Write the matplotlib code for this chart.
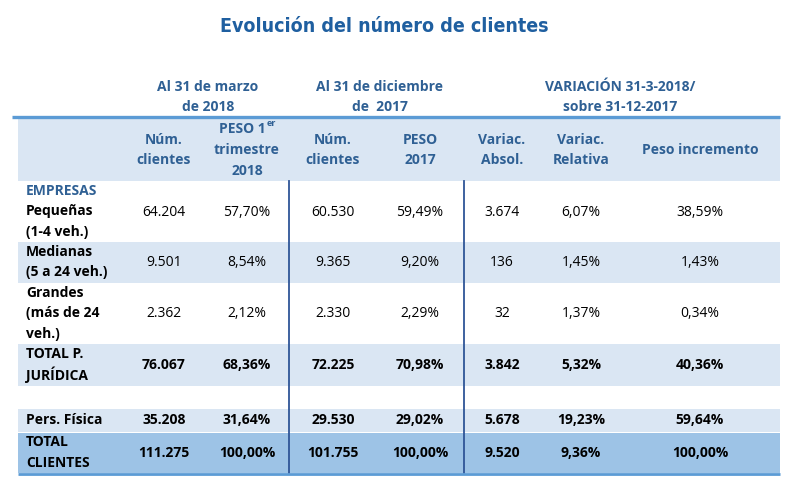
import matplotlib
matplotlib.use("Agg")
import matplotlib.pyplot as plt
from matplotlib import font_manager

# data
row_labels = [["Pequeñas", "(1-4 veh.)"],
              ["Medianas", "(5 a 24 veh.)"],
              ["Grandes", "(más de 24", "veh.)"],
              ["TOTAL P.", "JURÍDICA"],
              [],
              ["Pers. Física"],
              ["TOTAL", "CLIENTES"]]
clientes_2018 = ["64.204", "9.501", "2.362", "76.067", "", "35.208", "111.275"]
peso_2018 = ["57,70%", "8,54%", "2,12%", "68,36%", "", "31,64%", "100,00%"]
clientes_2017 = ["60.530", "9.365", "2.330", "72.225", "", "29.530", "101.755"]
peso_2017 = ["59,49%", "9,20%", "2,29%", "70,98%", "", "29,02%", "100,00%"]
var_abs = ["3.674", "136", "32", "3.842", "", "5.678", "9.520"]
var_rel = ["6,07%", "1,45%", "1,37%", "5,32%", "", "19,23%", "9,36%"]
peso_inc = ["38,59%", "1,43%", "0,34%", "40,36%", "", "59,64%", "100,00%"]
bold_rows = [False, False, False, True, False, True, True]

group_headers = ["Al 31 de marzo\nde 2018", "Al 31 de diciembre\nde  2017",
                 "VARIACIÓN 31-3-2018/\nsobre 31-12-2017"]
col_headers = ["Núm.\nclientes", "", "Núm.\nclientes", "PESO\n2017",
               "Variac.\nAbsol.", "Variac.\nRelativa", "Peso incremento"]


def narrow_font():
    for fam in ["Liberation Sans Narrow", "DejaVu Sans"]:
        try:
            path = font_manager.findfont(
                font_manager.FontProperties(family=fam, stretch='condensed', weight='bold'),
                fallback_to_default=False)
            if 'Narrow' in path or 'Condensed' in path:
                return fam, True
        except Exception:
            pass
    return "Roboto", False


body_font = "Open Sans"
title_font, is_narrow = narrow_font()
plt.rcParams['font.family'] = [body_font, 'DejaVu Sans']

blue_txt = '#2F6094'
band = '#DAE6F3'
band_dark = '#9DC3E6'
fs = 10

fig = plt.figure(figsize=(8, 4.94), dpi=100)
ax = fig.add_axes([0, 0, 1, 1])
ax.set_xlim(0, 800)
ax.set_ylim(494, 0)
ax.axis('off')

# layout (pixels)
x_left, x_right = 18, 780
col_x = [164, 247, 333, 420, 502, 581, 700]
row_top = [181, 241, 283, 343, 386, 408, 432]
row_bot = [241, 283, 343, 386, 408, 432, 473]
row_fill = [None, band, None, band, None, band, band_dark]
line_h = 20.5

ax.text(384, 27, "Evolución del número de clientes", ha='center', va='center',
        fontsize=14 if is_narrow else 13, fontweight='bold', color='#1F5FA0',
        family=title_font, fontstretch='condensed')

for gx, g in zip([208, 380, 620], group_headers):
    for k, line in enumerate(g.split("\n")):
        ax.text(gx, 87 + k * 19.5, line, ha='center', va='center', fontsize=fs,
                fontweight='bold', color=blue_txt)

# header band
ax.fill_between([x_left, x_right], 117, 181, color=band, lw=0)
ax.plot([x_left - 6, x_right], [117, 117], color='#5B9BD5', lw=2.4,
        solid_capstyle='butt')

for cx, h in zip(col_x, col_headers):
    lines = h.split("\n")
    y0 = 150 - (len(lines) - 1) * line_h / 2
    for k, line in enumerate(lines):
        ax.text(cx, y0 + k * line_h, line, ha='center', va='center',
                fontsize=fs, fontweight='bold', color=blue_txt)
# PESO 1er trimestre 2018
ax.text(col_x[1] + 19, 129, "PESO 1", ha='right', va='center', fontsize=fs,
        fontweight='bold', color=blue_txt)
ax.text(col_x[1] + 20, 123, "er", ha='left', va='center', fontsize=6.5,
        fontweight='bold', color=blue_txt)
ax.text(col_x[1], 150, "trimestre", ha='center', va='center', fontsize=fs,
        fontweight='bold', color=blue_txt)
ax.text(col_x[1], 171, "2018", ha='center', va='center', fontsize=fs,
        fontweight='bold', color=blue_txt)

# rows
ax.text(26, 191, "EMPRESAS", ha='left', va='center', fontsize=fs,
        fontweight='bold', color=blue_txt)
columns = [clientes_2018, peso_2018, clientes_2017, peso_2017, var_abs, var_rel, peso_inc]
for i, lab in enumerate(row_labels):
    if row_fill[i]:
        ax.fill_between([x_left, x_right], row_top[i] + 0.5, row_bot[i] - 0.5,
                        color=row_fill[i], lw=0)
    yc = (row_top[i] + row_bot[i]) / 2
    if i == 0:
        yc = 212
    w = 'bold' if bold_rows[i] else 'normal'
    n = len(lab)
    if i == 0:
        y0 = 211
    else:
        y0 = yc - (n - 1) * line_h / 2
    for k, line in enumerate(lab):
        ax.text(26, y0 + k * line_h, line, ha='left', va='center', fontsize=fs,
                fontweight='bold', color='black')
    for cx, col in zip(col_x, columns):
        ax.text(cx, yc, col[i], ha='center', va='center', fontsize=fs,
                fontweight=w, color='black')

ax.plot([289, 289], [181, 473], color='#2F5597', lw=1.3)
ax.plot([464, 464], [181, 473], color='#2F5597', lw=1.3)
ax.plot([x_left, x_right], [474, 474], color='#5B9BD5', lw=2,
        solid_capstyle='butt')

fig.savefig("out.png", dpi=100)
